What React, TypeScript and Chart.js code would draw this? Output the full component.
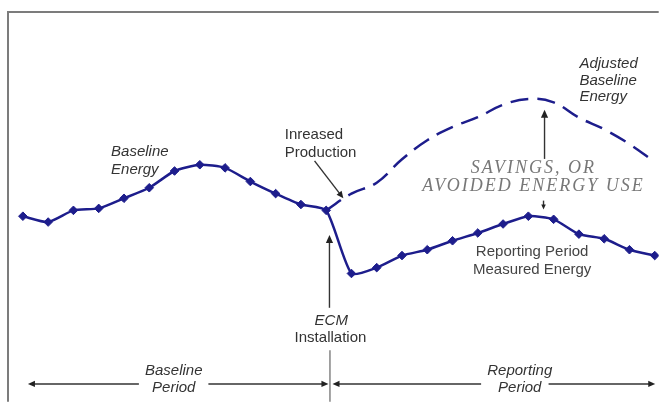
import { useEffect, useRef } from "react";
import { Chart, registerables } from "chart.js";

Chart.register(...registerables);

// Time periods (index along the horizontal axis)
const periods = [0, 1, 2, 3, 4, 5, 6, 7, 8, 9, 10, 11, 12, 13, 14, 15, 16, 17, 18, 19, 20, 21, 22, 23, 24, 25];
// Baseline period measured energy (periods 0..12)
const baselineEnergy = [47.6, 46.1, 49.1, 49.6, 52.2, 54.9, 59.2, 60.8, 60.0, 56.5, 53.4, 50.6, 49.1];
// Reporting period measured energy (periods 13..25)
const reportingEnergy = [32.9, 34.4, 37.5, 39.0, 41.3, 43.3, 45.6, 47.6, 46.8, 43.0, 41.8, 39.0, 37.5];
// Adjusted baseline energy (periods 12..25)
const adjustedBaselineEnergy = [49.1, 53.4, 56.2, 62.2, 67.1, 70.5, 73.0, 76.2, 77.7, 76.8, 72.9, 69.9, 66.1, 61.5];
const adjustedStart = 12;

const SANS = '"Liberation Sans", Arial, sans-serif';
const SERIF = '"Liberation Serif", "Times New Roman", serif';
const LINE_COLOR = "#1d1d8c";

type Txt = { text: string; x: number; y: number; font: string; color: string; align: CanvasTextAlign; spacing?: string };

const texts: Txt[] = [
  { text: "Baseline", x: 3.49, y: 64.05, font: `italic 15px ${SANS}`, color: "#333", align: "left" },
  { text: "Energy", x: 3.49, y: 59.5, font: `italic 15px ${SANS}`, color: "#333", align: "left" },
  { text: "Inreased", x: 10.36, y: 68.35, font: `15px ${SANS}`, color: "#333", align: "left" },
  { text: "Production", x: 10.36, y: 63.9, font: `15px ${SANS}`, color: "#333", align: "left" },
  { text: "Adjusted", x: 22.02, y: 86.8, font: `italic 15px ${SANS}`, color: "#333", align: "left" },
  { text: "Baseline", x: 22.02, y: 82.4, font: `italic 15px ${SANS}`, color: "#333", align: "left" },
  { text: "Energy", x: 22.02, y: 78.2, font: `italic 15px ${SANS}`, color: "#333", align: "left" },
  { text: "SAVINGS, OR", x: 20.2, y: 59.8, font: `italic 18px ${SERIF}`, color: "#777", align: "center", spacing: "2px" },
  { text: "AVOIDED ENERGY USE", x: 20.2, y: 55.4, font: `italic 18px ${SERIF}`, color: "#777", align: "center", spacing: "2px" },
  { text: "Reporting Period", x: 20.15, y: 38.5, font: `15px ${SANS}`, color: "#444", align: "center" },
  { text: "Measured Energy", x: 20.15, y: 33.9, font: `15px ${SANS}`, color: "#444", align: "center" },
  { text: "ECM", x: 12.2, y: 20.8, font: `italic 15px ${SANS}`, color: "#333", align: "center" },
  { text: "Installation", x: 12.17, y: 16.5, font: `15px ${SANS}`, color: "#333", align: "center" },
  { text: "Baseline", x: 5.97, y: 7.85, font: `italic 15px ${SANS}`, color: "#333", align: "center" },
  { text: "Period", x: 5.97, y: 3.55, font: `italic 15px ${SANS}`, color: "#333", align: "center" },
  { text: "Reporting", x: 19.66, y: 7.85, font: `italic 15px ${SANS}`, color: "#333", align: "center" },
  { text: "Period", x: 19.66, y: 3.55, font: `italic 15px ${SANS}`, color: "#333", align: "center" },
];

type Arr = { x1: number; y1: number; x2: number; y2: number; head: number };
const arrows: Arr[] = [
  { x1: 11.54, y1: 61.8, x2: 12.68, y2: 52.2, head: 7 },
  { x1: 12.13, y1: 24.1, x2: 12.13, y2: 42.8, head: 8 },
  { x1: 20.64, y1: 62.3, x2: 20.64, y2: 74.9, head: 8 },
  { x1: 20.6, y1: 51.6, x2: 20.6, y2: 49.3, head: 5 },
  { x1: 4.59, y1: 4.56, x2: 0.2, y2: 4.56, head: 7 },
  { x1: 7.34, y1: 4.56, x2: 12.09, y2: 4.56, head: 7 },
  { x1: 18.13, y1: 4.56, x2: 12.25, y2: 4.56, head: 7 },
  { x1: 20.8, y1: 4.56, x2: 25.02, y2: 4.56, head: 7 },
];
const separator = { x: 12.15, y1: 13.2, y2: 0 };

function drawArrow(ctx: CanvasRenderingContext2D, x1: number, y1: number, x2: number, y2: number, head: number) {
  const ang = Math.atan2(y2 - y1, x2 - x1);
  ctx.beginPath();
  ctx.moveTo(x1, y1);
  ctx.lineTo(x2 - Math.cos(ang) * head * 0.8, y2 - Math.sin(ang) * head * 0.8);
  ctx.stroke();
  ctx.beginPath();
  ctx.moveTo(x2, y2);
  ctx.lineTo(x2 - head * Math.cos(ang) + head * 0.45 * Math.sin(ang), y2 - head * Math.sin(ang) - head * 0.45 * Math.cos(ang));
  ctx.lineTo(x2 - head * Math.cos(ang) - head * 0.45 * Math.sin(ang), y2 - head * Math.sin(ang) + head * 0.45 * Math.cos(ang));
  ctx.closePath();
  ctx.fill();
}

const framePlugin = {
  id: "frame",
  beforeDatasetsDraw(chart: any) {
    const { ctx, chartArea } = chart;
    ctx.save();
    ctx.strokeStyle = "#7c7c7c";
    ctx.lineWidth = 2;
    ctx.beginPath();
    ctx.moveTo(chartArea.left, chartArea.bottom);
    ctx.lineTo(chartArea.left, chartArea.top);
    ctx.lineTo(chartArea.right, chartArea.top);
    ctx.stroke();
    ctx.restore();
  },
};

const annotatePlugin = {
  id: "annotate",
  afterDatasetsDraw(chart: any) {
    const { ctx } = chart;
    const xs = chart.scales.x;
    const ys = chart.scales.y;
    const X = (v: number) => xs.getPixelForValue(v);
    const Y = (v: number) => ys.getPixelForValue(v);
    ctx.save();
    ctx.textBaseline = "middle";
    for (const t of texts) {
      ctx.font = t.font;
      ctx.fillStyle = t.color;
      ctx.textAlign = t.align;
      (ctx as any).letterSpacing = t.spacing || "0px";
      ctx.fillText(t.text, X(t.x), Y(t.y));
    }
    (ctx as any).letterSpacing = "0px";
    ctx.strokeStyle = "#333";
    ctx.fillStyle = "#222";
    ctx.lineWidth = 1.4;
    for (const a of arrows) {
      drawArrow(ctx, X(a.x1), Y(a.y1), X(a.x2), Y(a.y2), a.head);
    }
    ctx.strokeStyle = "#666";
    ctx.lineWidth = 1.2;
    ctx.beginPath();
    ctx.moveTo(X(separator.x), Y(separator.y1));
    ctx.lineTo(X(separator.x), Y(separator.y2));
    ctx.stroke();
    ctx.restore();
  },
};

export default function App() {
  const ref = useRef<HTMLCanvasElement | null>(null);
  useEffect(() => {
    if (!ref.current) return;
    document.body.style.margin = "0";
    const measured = [...baselineEnergy, ...reportingEnergy].map((v, i) => ({ x: periods[i], y: v }));
    const adjusted = adjustedBaselineEnergy.map((v, i) => ({ x: periods[adjustedStart + i], y: v }));
    const chart = new Chart(ref.current, {
      type: "line",
      data: {
        datasets: [
          {
            label: "Adjusted Baseline Energy",
            data: adjusted,
            borderColor: LINE_COLOR,
            borderWidth: 2.5,
            borderDash: [18, 9],
            pointRadius: 0,
            tension: 0.4,
            fill: false,
          },
          {
            label: "Measured Energy",
            data: measured,
            borderColor: LINE_COLOR,
            backgroundColor: LINE_COLOR,
            borderWidth: 2.5,
            pointStyle: "rectRot",
            pointRadius: 4.3,
            pointBorderWidth: 1,
            tension: 0.2,
            fill: false,
          },
        ],
      },
      options: {
        animation: false,
        responsive: true,
        maintainAspectRatio: false,
        layout: { padding: { left: 8, top: 12, right: 0, bottom: 0 } },
        plugins: { legend: { display: false }, tooltip: { enabled: false } },
        scales: {
          x: { type: "linear", display: false, min: -0.589, max: 25.157 },
          y: { type: "linear", display: false, min: 0, max: 100 },
        },
      },
      plugins: [framePlugin, annotatePlugin],
    });
    return () => chart.destroy();
  }, []);
  return (
    <div style={{ position: "fixed", left: 0, top: 0, width: "100vw", height: "100vh", background: "#fff" }}>
      <canvas ref={ref} />
    </div>
  );
}
